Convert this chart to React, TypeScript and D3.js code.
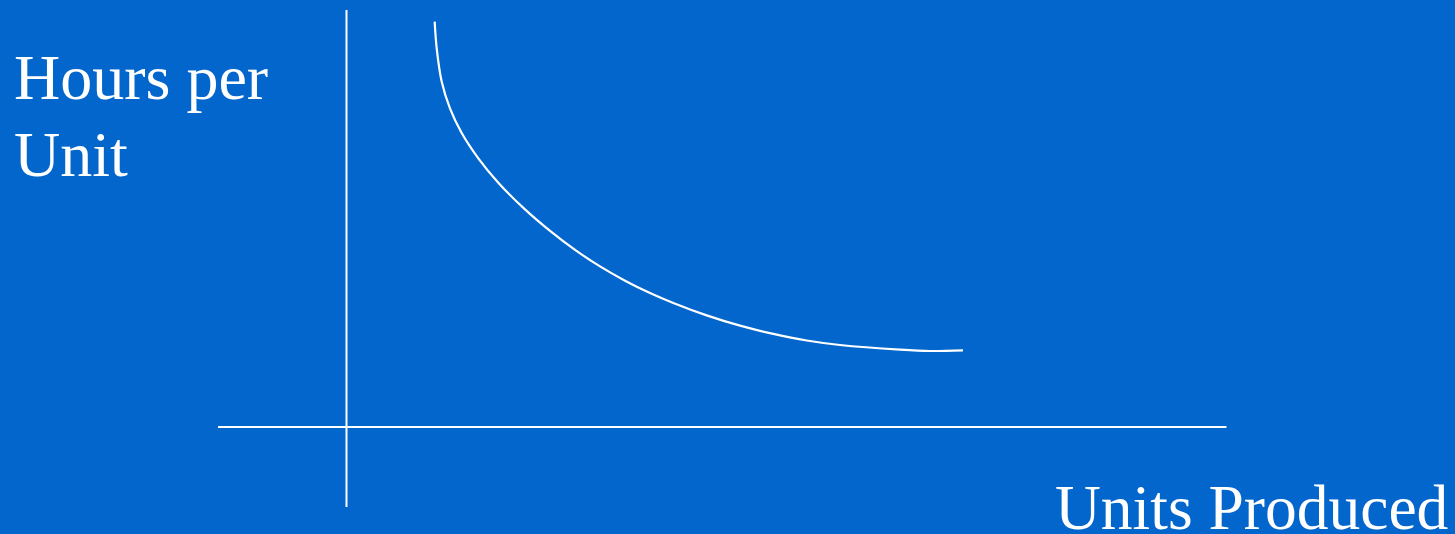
import React, { useEffect } from "react";
import * as d3 from "d3";

// Learning curve: units produced (x) vs hours per unit (y), arbitrary units
const curveUnits = [10.02, 10.25, 10.82, 11.76, 13.09, 14.98, 17.25, 20.28, 23.13, 25.97, 28.81, 31.65, 34.49, 37.14, 40.93, 44.72, 48.5, 52.3, 56.08, 62.9, 66.31, 70.06];
const curveHours = [101.33, 94.68, 86.33, 79.68, 73.5, 67.18, 61.08, 54.4, 49.03, 44.28, 40.15, 36.58, 33.5, 31.0, 27.9, 25.33, 23.28, 21.63, 20.5, 19.33, 19.0, 19.18];

// Axis extents in data units
const xAxisExtent = [-14.6, 100];
const yAxisExtent = [-20, 104.25];

const yLabelLines = ["Hours per", "Unit"];
const xLabel = "Units Produced";

const W = 1455;
const H = 534;
const BG = "#0366cc";

export default function App() {
  useEffect(() => {
    document.body.style.margin = "0";
    document.body.style.overflow = "hidden";
  }, []);

  const x = d3.scaleLinear().domain([0, 100]).range([346.5, 1226.5]);
  const y = d3.scaleLinear().domain([0, 100]).range([427, 27]);

  const pts: [number, number][] = curveUnits.map((u, i) => [u, curveHours[i]]);
  const line = d3
    .line<[number, number]>()
    .x((d) => x(d[0]))
    .y((d) => y(d[1]))
    .curve(d3.curveCatmullRom.alpha(0.5));

  const font = "'Liberation Serif', 'Times New Roman', serif";

  return (
    <svg width={W} height={H} style={{ display: "block", position: "absolute", left: 0, top: 0 }}>
      <rect x={0} y={0} width={W} height={H} fill={BG} />
      {/* horizontal axis */}
      <line x1={x(xAxisExtent[0])} x2={x(xAxisExtent[1])} y1={y(0)} y2={y(0)} stroke="#fff" strokeWidth={2} />
      {/* vertical axis */}
      <line x1={x(0)} x2={x(0)} y1={y(yAxisExtent[1])} y2={y(yAxisExtent[0])} stroke="#fff" strokeWidth={2} />
      <path d={line(pts) || ""} fill="none" stroke="#fff" strokeWidth={2.2} />
      <text fontFamily={font} fontSize={64} fill="#fff">
        {yLabelLines.map((t, i) => (
          <tspan key={i} x={14} y={99 + i * 77}>
            {t}
          </tspan>
        ))}
      </text>
      <text x={1055} y={529} fontFamily={font} fontSize={63.5} fill="#fff">
        {xLabel}
      </text>
    </svg>
  );
}
